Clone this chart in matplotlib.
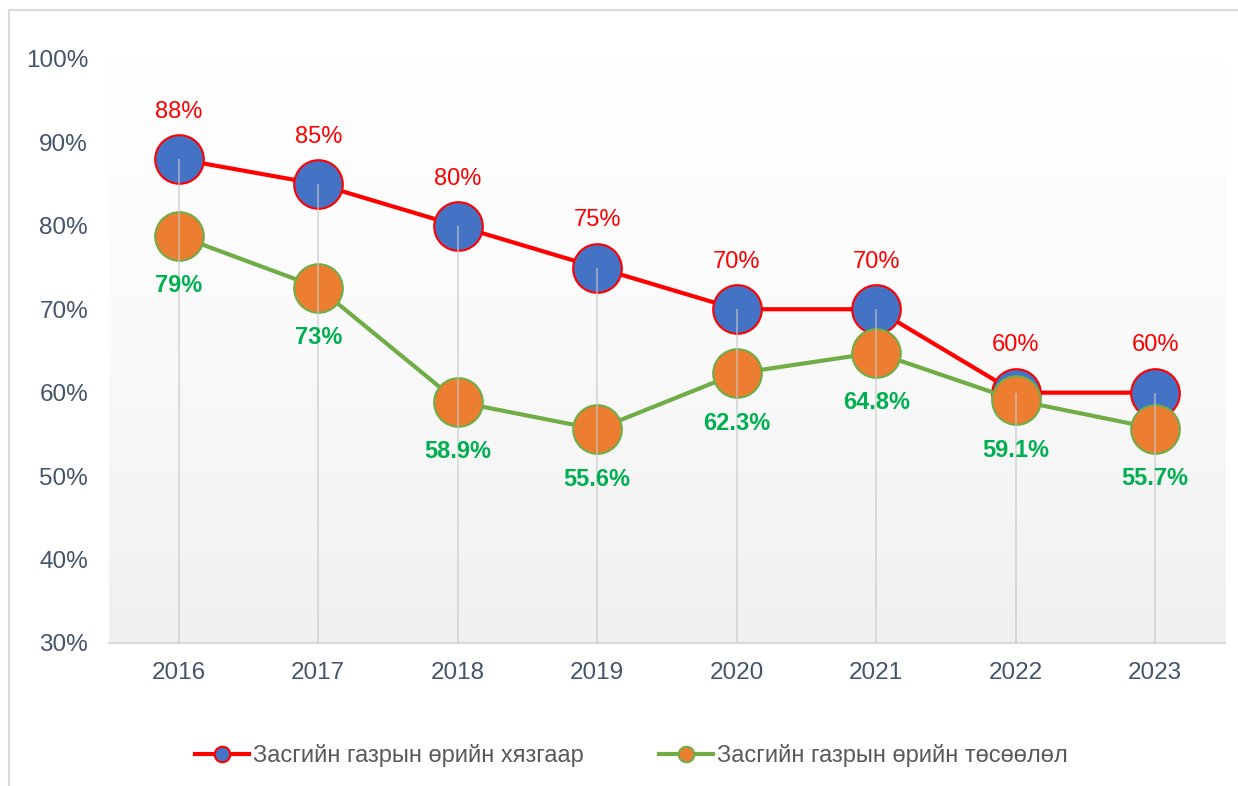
import matplotlib.pyplot as plt
import numpy as np
from matplotlib.patches import Rectangle
from matplotlib.colors import LinearSegmentedColormap

plt.rcParams['font.family'] = ['Liberation Sans', 'DejaVu Sans']

years = ['2016', '2017', '2018', '2019', '2020', '2021', '2022', '2023']
limit = [88, 85, 80, 75, 70, 70, 60, 60]
forecast = [78.8, 72.6, 58.9, 55.6, 62.3, 64.8, 59.1, 55.7]
limit_labels = ['88%', '85%', '80%', '75%', '70%', '70%', '60%', '60%']
forecast_labels = ['79%', '73%', '58.9%', '55.6%', '62.3%', '64.8%', '59.1%', '55.7%']
yticks = [30, 40, 50, 60, 70, 80, 90, 100]

fig = plt.figure(figsize=(12.38, 7.86), dpi=100)
ax = fig.add_axes([0.088, 0.182, 0.9015, 0.743])

x = np.arange(len(years))
ax.set_xlim(-0.5, len(years) - 0.5)
ax.set_ylim(30, 100)

# soft vertical gradient behind the plot
grad = np.linspace(0, 1, 256).reshape(-1, 1)
bg = LinearSegmentedColormap.from_list('bg', ['#f0f0f0', '#fafafa', '#ffffff'])
ax.imshow(grad, extent=[-0.5, len(years) - 0.5, 30, 100], aspect='auto',
          cmap=bg, origin='lower', zorder=0)

# drop lines from the upper point to the axis
top = np.maximum(limit, forecast)
ax.vlines(x, 30, top, color='#c8c8c8', lw=1.2, alpha=0.7, zorder=5)

ax.plot(x, limit, color='#ff0000', lw=3, marker='o', markersize=35,
        markerfacecolor='#4472c4', markeredgecolor='#ff0000', markeredgewidth=1.5,
        zorder=3, label='Засгийн газрын өрийн хязгаар')
ax.plot(x, forecast, color='#70ad47', lw=3, marker='o', markersize=35,
        markerfacecolor='#ed7d31', markeredgecolor='#70ad47', markeredgewidth=1.5,
        zorder=4, label='Засгийн газрын өрийн төсөөлөл')

for xi, v, t in zip(x, limit, limit_labels):
    ax.annotate(t, (xi, v), xytext=(0, 34), textcoords='offset points',
                ha='center', va='center', fontsize=17, color='#ff0000', zorder=6)
for xi, v, t in zip(x, forecast, forecast_labels):
    ax.annotate(t, (xi, v), xytext=(0, -36), textcoords='offset points',
                ha='center', va='center', fontsize=17, color='#00b050',
                fontweight='bold', zorder=6)

ax.set_xticks(x)
ax.set_xticklabels(years)
ax.set_yticks(yticks)
ax.set_yticklabels([f'{t}%' for t in yticks])
ax.tick_params(axis='both', length=0, labelsize=17.5, colors='#44546a')
ax.tick_params(axis='y', pad=15)
ax.tick_params(axis='x', pad=14)

for s in ['top', 'right', 'left']:
    ax.spines[s].set_visible(False)
ax.spines['bottom'].set_color('#d9d9d9')
ax.spines['bottom'].set_linewidth(1.5)

leg = fig.legend(loc='center', bbox_to_anchor=(0.51, 0.039), ncol=2, frameon=False,
                 fontsize=17, handlelength=2.3, columnspacing=3.2, handletextpad=0.15,
                 markerscale=0.32, labelcolor='#595959')

# chart frame
fig.patches.append(Rectangle((9 / 1238, -0.05), 1.1, 1 - 10 / 786 + 0.05,
                             transform=fig.transFigure, fill=False,
                             edgecolor='#d9d9d9', lw=1.5))

fig.savefig('out.png', dpi=100)
